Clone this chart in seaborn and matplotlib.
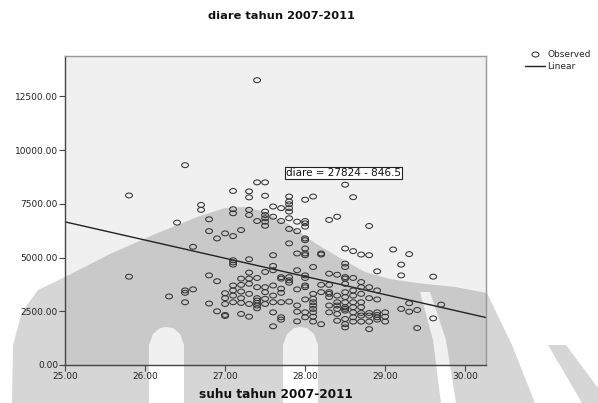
import numpy as np
import pandas as pd
import seaborn as sns
import matplotlib.pyplot as plt
from matplotlib.path import Path
from matplotlib.patches import PathPatch, Rectangle
from matplotlib.lines import Line2D
from matplotlib.transforms import Affine2D

# observed points (suhu in deg C, diare cases)
suhu = [
    25.8, 25.8,
    26.3, 26.4,
    26.5, 26.5, 26.5, 26.5,
    26.6, 26.6,
    26.7, 26.7,
    26.8, 26.8, 26.8, 26.8,
    26.9, 26.9, 26.9,
    27.0, 27.0, 27.0, 27.0, 27.0, 27.0,
    27.1, 27.1, 27.1, 27.1, 27.1, 27.1, 27.1, 27.1, 27.1, 27.1, 27.1,
    27.2, 27.2, 27.2, 27.2, 27.2, 27.2, 27.2,
    27.3, 27.3, 27.3, 27.3, 27.3, 27.3, 27.3, 27.3, 27.3, 27.3, 27.3,
    27.4, 27.4, 27.4, 27.4, 27.4, 27.4, 27.4, 27.4, 27.4, 27.4,
    27.5, 27.5, 27.5, 27.5, 27.5, 27.5, 27.5, 27.5, 27.5, 27.5, 27.5, 27.5,
    27.6, 27.6, 27.6, 27.6, 27.6, 27.6, 27.6, 27.6, 27.6, 27.6,
    27.7, 27.7, 27.7, 27.7, 27.7, 27.7, 27.7, 27.7, 27.7,
    27.8, 27.8, 27.8, 27.8, 27.8, 27.8, 27.8, 27.8, 27.8, 27.8, 27.8, 27.8,
    27.9, 27.9, 27.9, 27.9, 27.9, 27.9, 27.9, 27.9,
    28.0, 28.0, 28.0, 28.0, 28.0, 28.0, 28.0, 28.0, 28.0, 28.0, 28.0, 28.0,
    28.0, 28.0, 28.0, 28.0,
    28.1, 28.1, 28.1, 28.1, 28.1, 28.1, 28.1, 28.1, 28.1, 28.1,
    28.2, 28.2, 28.2, 28.2, 28.2,
    28.3, 28.3, 28.3, 28.3, 28.3, 28.3, 28.3, 28.3,
    28.4, 28.4, 28.4, 28.4, 28.4, 28.4, 28.4, 28.4,
    28.5, 28.5, 28.5, 28.5, 28.5, 28.5, 28.5, 28.5, 28.5, 28.5, 28.5, 28.5,
    28.5, 28.5, 28.5, 28.5,
    28.6, 28.6, 28.6, 28.6, 28.6, 28.6, 28.6, 28.6, 28.6, 28.6,
    28.7, 28.7, 28.7, 28.7, 28.7, 28.7, 28.7, 28.7, 28.7,
    28.8, 28.8, 28.8, 28.8, 28.8, 28.8, 28.8, 28.8,
    28.9, 28.9, 28.9, 28.9, 28.9, 28.9, 28.9,
    29.0, 29.0, 29.0,
    29.1,
    29.2, 29.2, 29.2,
    29.3, 29.3, 29.3,
    29.4, 29.4,
    29.6, 29.6,
    29.7,
]
diare = [
    7890, 4110,
    3190, 6625,
    9300, 3470, 3360, 2920,
    5500, 3520,
    7450, 7220,
    6780, 6230, 4170, 2860,
    5890, 3900, 2500,
    6125, 3340, 3110, 2840, 2330, 2280,
    8100, 7250, 7060, 6000, 4875, 4770, 4670, 3700, 3470, 3230, 2920,
    6280, 4020, 3730, 3420, 3110, 2890, 2375,
    8080, 7800, 7220, 6980, 4920, 4300, 4020, 3780, 3310, 2840, 2250,
    13255, 8500, 6700, 4050, 3620, 3110, 3000, 2890, 2770, 2640,
    8500, 7875, 7140, 6980, 6830, 6670, 6480, 4330, 3620, 3390, 3080, 2840,
    7375, 6900, 5110, 4610, 4410, 3700, 3230, 2920, 2450, 1800,
    7300, 6700, 4090, 4020, 3550, 3360, 2920, 2220, 2110,
    7840, 7610, 7480, 7300, 7140, 6830, 6330, 5660, 4090, 3940, 3830, 2950,
    6670, 6230, 5190, 4410, 3520, 2770, 2480, 2030,
    7690, 6700, 6590, 6440, 5890, 5810, 5420, 5190, 5110, 4170, 4050, 3700,
    3620, 3050, 2450, 2220,
    7840, 4560, 3310, 3080, 2920, 2770, 2610, 2450, 2250, 2020,
    5190, 5140, 3730, 3390, 1900,
    6750, 4250, 3730, 3390, 3310, 3160, 2770, 2450,
    6900, 4200, 3230, 2920, 2770, 2610, 2375, 2060,
    8390, 5420, 4720, 4560, 4090, 4020, 3780, 3390, 3160, 2920, 2690, 2610,
    2530, 2140, 1900, 1750,
    7810, 5300, 4050, 3470, 3230, 2920, 2690, 2450, 2220, 2020,
    5140, 3860, 3620, 3310, 2920, 2690, 2420, 2300, 2020,
    6470, 5110, 3620, 3110, 2420, 2300, 2020, 1670,
    4360, 3470, 3050, 2450, 2330, 2220, 2110,
    2450, 2250, 2020,
    5375,
    4670, 4170, 2610,
    5160, 2875, 2480,
    2560, 1720,
    4110, 2170,
    2810,
]

# fitted line printed on the chart
intercept = 27824
slope = -846.5
equation = "diare = 27824 - 846.5"

x_ticks = [25, 26, 27, 28, 29, 30]
y_ticks = [0, 2500, 5000, 7500, 10000, 12500]

W, H = 598, 403

sns.set_style("white")
plt.rcParams['font.family'] = ['DejaVu Sans']

fig = plt.figure(figsize=(W / 100, H / 100), dpi=100)
ax = fig.add_axes([65 / W, 1 - 365 / H, (486 - 65) / W, (365 - 56) / H])
ax.set_facecolor('none')


def px(pts):
    # image pixel (x right, y down) -> figure fraction
    return [(x / W, 1 - y / H) for x, y in pts]


def ring(pts, ccw):
    a = np.array(pts, float)
    area = 0.5 * np.sum(a[:-1, 0] * a[1:, 1] - a[1:, 0] * a[:-1, 1])
    if (area > 0) != ccw:
        a = a[::-1]
    return [tuple(p) for p in a]


# plot background
fig.add_artist(Rectangle((65 / W, 1 - 365 / H), (486 - 65) / W, (365 - 56) / H,
                         transform=fig.transFigure, facecolor='#f0f0f0',
                         edgecolor='none', zorder=-3))

# faint watermark behind the chart (scanned page)
outer = [(12, 403), (13, 345), (22, 312), (38, 290), (65, 277), (110, 254),
         (160, 232), (200, 216), (225, 208), (245, 207), (265, 212), (290, 225),
         (315, 243), (340, 258), (365, 272), (390, 279), (417, 283), (455, 287),
         (487, 293), (512, 345), (535, 403)]
holes = [
    [(149, 403), (149, 345), (153, 334), (160, 328), (166, 327), (173, 328),
     (180, 334), (184, 345), (184, 403)],
    [(283, 403), (283, 345), (287, 334), (294, 328), (300, 327), (307, 328),
     (314, 334), (318, 345), (318, 403)],
    [(420, 292), (430, 292), (446, 340), (456, 403), (441, 403), (433, 340)],
]
verts, codes = [], []
for k, poly in enumerate([outer] + holes):
    r = ring(px(poly), ccw=(k == 0))
    verts += r + [r[0]]
    codes += [Path.MOVETO] + [Path.LINETO] * (len(r) - 1) + [Path.CLOSEPOLY]
fig.add_artist(PathPatch(Path(verts, codes), transform=fig.transFigure,
                         facecolor='black', alpha=0.16, edgecolor='none', zorder=-2))
corner = [(548, 345), (566, 345), (598, 388), (598, 403), (582, 403)]
fig.add_artist(PathPatch(Path(px(corner) + [px(corner)[0]],
                              [Path.MOVETO] + [Path.LINETO] * 4 + [Path.CLOSEPOLY]),
                         transform=fig.transFigure, facecolor='black', alpha=0.16,
                         edgecolor='none', zorder=-2))

# wide open circle marker, like the SPSS output
ell = Affine2D().scale(1.0, 0.72).transform_path(Path.unit_circle())

df = pd.DataFrame({'suhu': suhu, 'diare': diare})
sns.scatterplot(data=df, x='suhu', y='diare', marker=ell, s=24,
                facecolor='none', edgecolor='#333333', linewidth=0.75, ax=ax, zorder=3)

xlim = (25, 30.26)
line_x = np.array(xlim)
sns.lineplot(x=line_x, y=intercept + slope * line_x, color='#222222',
             linewidth=1.0, ax=ax, zorder=2)

ax.set_xlim(*xlim)
ax.set_ylim(0, 14380)
ax.set_xticks(x_ticks)
ax.set_yticks(y_ticks)
ax.set_xticklabels([f"{v:.2f}" for v in x_ticks])
ax.set_yticklabels([f"{v:.2f}" for v in y_ticks])
ax.tick_params(axis='both', direction='out', length=4, width=0.8, color='#444444',
               labelsize=6.5, labelcolor='#222222', pad=1,
               bottom=True, left=True)
ax.set_xlabel('')
ax.set_ylabel('')
for side in ['left', 'bottom']:
    ax.spines[side].set_color('#444444')
    ax.spines[side].set_linewidth(1.0)
for side in ['top', 'right']:
    ax.spines[side].set_color('#999999')
    ax.spines[side].set_linewidth(1.0)

ax.text(27.76, 8940, equation, fontsize=7.5, color='#111111', va='center', ha='left',
        bbox=dict(boxstyle='square,pad=0.12', facecolor='white',
                  edgecolor='#222222', linewidth=0.8), zorder=4)

fig.text(281 / W, 1 - 16 / H, 'diare tahun 2007-2011', fontsize=8.2,
         fontweight='bold', ha='center', va='center', color='#111111')
fig.text(276 / W, 1 - 394 / H, 'suhu tahun 2007-2011', fontsize=8.7,
         fontweight='bold', ha='center', va='center', color='#111111')

handles = [
    Line2D([], [], marker=ell, linestyle='none', markersize=5.0,
           markerfacecolor='none', markeredgecolor='#333333', markeredgewidth=0.75),
    Line2D([], [], color='#222222', linewidth=1.0),
]
fig.legend(handles, ['Observed', 'Linear'], loc='upper left',
           bbox_to_anchor=(525 / W, 1 - 50 / H), frameon=False, fontsize=6.5,
           handlelength=2.2, handletextpad=0.3, labelspacing=0.35,
           borderaxespad=0, borderpad=0)

fig.savefig('out.png', dpi=100)
